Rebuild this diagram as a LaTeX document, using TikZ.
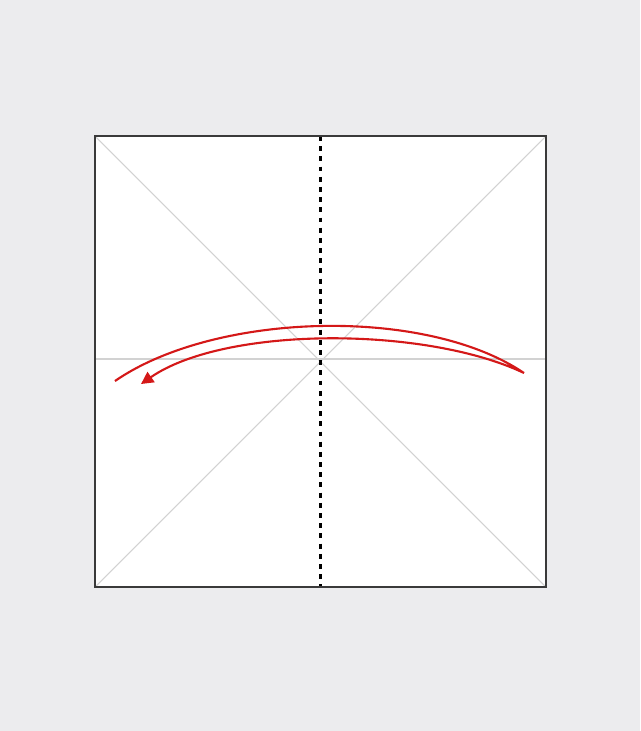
\documentclass[tikz,border=0pt]{standalone}
\usepackage{tikz}
\usetikzlibrary{arrows.meta}
\definecolor{bggray}{HTML}{ECECEE}
\definecolor{creasegray}{HTML}{D2D2D2}
\definecolor{edgegray}{HTML}{3A3A3A}
\definecolor{foldred}{HTML}{D41818}
\tikzset{
  paper/.style={draw=edgegray, fill=white, line width=1.2pt},
  crease/.style={draw=creasegray, line width=0.6pt},
  valley/.style={draw=black, line width=1.15pt, dash pattern=on 2.8pt off 3pt},
  foldarrow/.style={draw=foldred, line width=1.2pt, -{Triangle[length=7pt, width=7pt]}},
}

\begin{document}
\begin{tikzpicture}[x=0.02cm, y=-0.02cm]
% background
\fill[bggray] (0,0) rectangle (640,731);
\useasboundingbox (0,0) rectangle (640,731);
% corners of the square
\coordinate (tl) at (95,136);
\coordinate (tr) at (546,136);
\coordinate (br) at (546,587);
\coordinate (bl) at (95,587);
\coordinate (top) at (320.5,136);
\coordinate (bot) at (320.5,587);
\coordinate (lmid) at (95,359);
\coordinate (rmid) at (546,359);
\path[paper] (tl) rectangle (br);
% creases
\draw[crease] (tl) -- (br);
\draw[crease] (tr) -- (bl);
\draw[crease] (lmid) -- (rmid);
\draw[valley] (top) -- (bot);
\draw[paper, fill=none] (tl) rectangle (br);
% fold arrow
\coordinate (start) at (115,381);
\coordinate (turn) at (524,373);
\coordinate (end) at (141,384);
\draw[foldarrow] (start) .. controls (215,312) and (425,306) .. (turn)
  .. controls (425,326) and (225,326) .. (end);
\end{tikzpicture}
\end{document}
